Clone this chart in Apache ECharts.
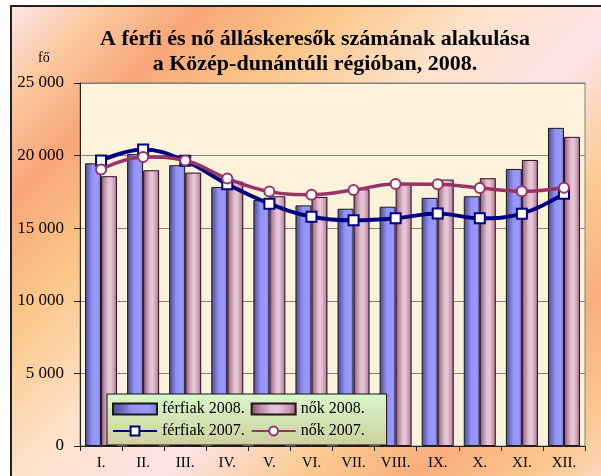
<!DOCTYPE html>
<html lang="hu">
<head>
<meta charset="UTF-8">
<title>Álláskeresők 2008</title>
<script src="https://cdn.jsdelivr.net/npm/echarts@6/dist/echarts.min.js"></script>
<style>
  html, body { margin: 0; padding: 0; background: #fff; }
  .wrap { position: relative; width: 601px; height: 476px; overflow: hidden; }
  .frame {
    position: absolute; left: 10px; top: 5px; width: 620px; height: 500px;
    border-top: 2px solid #222; border-left: 2px solid #222;
    background: linear-gradient(135deg, #fde4e6 0%, #fbc9a0 8%, #f8a679 17%, #fbc585 28%, #fde1c8 42%, #fde3e6 55%, #fbc98e 68%, #f9ad7e 78%, #fbc68c 88%, #fde4e6 100%);
  }
  #chart { position: absolute; left: 0; top: 0; width: 601px; height: 476px; }
</style>
</head>
<body>
<div class="wrap">
  <div class="frame"></div>
  <div id="chart"></div>
</div>
<script>
// adatok
var categories = ['I.', 'II.', 'III.', 'IV.', 'V.', 'VI.', 'VII.', 'VIII.', 'IX.', 'X.', 'XI.', 'XII.'];
var ferfiak2008 = [19470, 20100, 19340, 17840, 16940, 16570, 16340, 16480, 17090, 17200, 19080, 21910];
var nok2008 = [18580, 18990, 18830, 18210, 17200, 17150, 17680, 18100, 18350, 18440, 19700, 21290];
var ferfiak2007 = [19660, 20420, 19640, 18030, 16690, 15790, 15540, 15680, 16020, 15680, 16000, 17380];
var nok2007 = [19040, 19910, 19660, 18420, 17520, 17310, 17630, 18040, 18020, 17770, 17540, 17790];
var yTicks = [0, 5000, 10000, 15000, 20000, 25000];

var serif = "'Liberation Serif', 'Times New Roman', 'DejaVu Serif', serif";

function fmt(v) {
  return String(v).replace(/\B(?=(\d{3})+(?!\d))/g, ' ');
}

var blueGrad = new echarts.graphic.LinearGradient(0, 0, 1, 0, [
  { offset: 0, color: '#4a4a8e' },
  { offset: 0.25, color: '#7070c6' },
  { offset: 0.45, color: '#9393f6' },
  { offset: 0.8, color: '#9999ff' },
  { offset: 1, color: '#7878cc' }
]);
var pinkGrad = new echarts.graphic.LinearGradient(0, 0, 1, 0, [
  { offset: 0, color: '#884868' },
  { offset: 0.2, color: '#b88aa0' },
  { offset: 0.45, color: '#e2c2d2' },
  { offset: 0.6, color: '#e6c8d6' },
  { offset: 0.85, color: '#c896ac' },
  { offset: 1, color: '#985876' }
]);

var chart = echarts.init(document.getElementById('chart'));
var option = {
  backgroundColor: 'transparent',
  animation: false,
  title: [
    {
      text: 'A férfi és nő álláskeresők számának alakulása\na Közép-dunántúli régióban, 2008.',
      left: 310,
      top: 22,
      textAlign: 'center',
      textStyle: { fontFamily: serif, fontSize: 22, fontWeight: 'bold', color: '#000', lineHeight: 25 }
    },
    {
      text: 'fő',
      left: 33,
      top: 46,
      textStyle: { fontFamily: serif, fontSize: 14, fontWeight: 'normal', color: '#000' }
    }
  ],
  legend: {
    left: 107,
    top: 394,
    width: 262,
    padding: [7, 22, 6, 5],
    itemGap: 6,
    itemWidth: 44,
    itemHeight: 11,
    backgroundColor: new echarts.graphic.LinearGradient(0, 0, 0, 1, [
      { offset: 0, color: '#d8f8cc' },
      { offset: 1, color: '#cfcf9c' }
    ]),
    borderColor: '#111',
    borderWidth: 1,
    borderRadius: 0,
    textStyle: { fontFamily: serif, fontSize: 16, color: '#000', lineHeight: 10 },
    data: [
      { name: 'férfiak 2008.', icon: 'rect' },
      { name: 'nők 2008.', icon: 'rect' },
      'férfiak 2007.',
      'nők 2007.'
    ]
  },
  grid: {
    left: 80,
    right: 16,
    top: 83,
    bottom: 30,
    show: true,
    backgroundColor: '#fdf2da',
    borderColor: '#808080',
    borderWidth: 1
  },
  xAxis: {
    type: 'category',
    data: categories,
    axisLine: { lineStyle: { color: '#222', width: 1 } },
    axisTick: { show: true, length: 5, lineStyle: { color: '#222' } },
    axisLabel: { fontFamily: serif, fontSize: 15, color: '#000', margin: 10 }
  },
  yAxis: {
    type: 'value',
    min: yTicks[0],
    max: yTicks[yTicks.length - 1],
    interval: yTicks[1] - yTicks[0],
    axisLine: { show: true, lineStyle: { color: '#222', width: 1 } },
    axisTick: { show: true, length: 6, lineStyle: { color: '#222' } },
    axisLabel: { fontFamily: serif, fontSize: 17, color: '#000', margin: 16, formatter: fmt },
    splitLine: { lineStyle: { color: '#808080', width: 1 } }
  },
  series: [
    {
      name: 'férfiak 2008.',
      type: 'bar',
      data: ferfiak2008,
      barWidth: 16,
      barGap: '0%',
      itemStyle: { color: blueGrad, borderColor: '#1a1a1a', borderWidth: 1 }
    },
    {
      name: 'nők 2008.',
      type: 'bar',
      data: nok2008,
      barWidth: 16,
      itemStyle: { color: pinkGrad, borderColor: '#2a1020', borderWidth: 1 }
    },
    {
      name: 'férfiak 2007.',
      type: 'line',
      data: ferfiak2007,
      smooth: 0.4,
      symbol: 'rect',
      symbolSize: 10,
      z: 5,
      lineStyle: { color: '#000080', width: 4 },
      itemStyle: { color: '#fff', borderColor: '#000080', borderWidth: 2 }
    },
    {
      name: 'nők 2007.',
      type: 'line',
      data: nok2007,
      smooth: 0.4,
      symbol: 'circle',
      symbolSize: 10,
      z: 6,
      lineStyle: { color: '#993366', width: 3.5 },
      itemStyle: { color: '#fff', borderColor: '#993366', borderWidth: 2 }
    }
  ]
};
chart.setOption(option);
</script>
</body>
</html>
